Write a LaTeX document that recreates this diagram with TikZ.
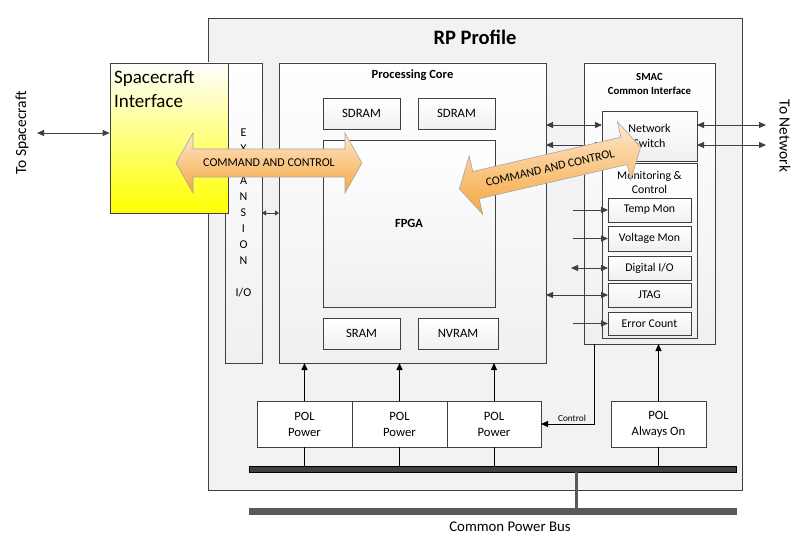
\documentclass[tikz,border=0pt]{standalone}
\usepackage{fontspec}
\setmainfont{Carlito}
\usetikzlibrary{arrows.meta,shapes.arrows}
\definecolor{edge}{HTML}{404040}
\definecolor{bgfill}{HTML}{F2F2F2}
\definecolor{busdark}{HTML}{404040}
\definecolor{busgray}{HTML}{595959}
\definecolor{orangeA}{HTML}{FFE8CC}
\definecolor{orangeB}{HTML}{F4A640}
\tikzset{
  blk/.style={draw=edge, line width=0.7pt, inner sep=0pt, outer sep=0pt, top color=white, bottom color=gray!12, align=center, font=\fontsize{12.7}{15}\selectfont},
  subblk/.style={blk, minimum width=83pt, font=\fontsize{11.8}{14}\selectfont},
  plainblk/.style={draw=edge, line width=0.7pt, inner sep=0pt, outer sep=0pt, fill=white, align=center, minimum height=46pt, font=\fontsize{12.7}{16}\selectfont},
  garrow/.style={draw=edge, line width=0.9pt, -{Triangle[length=7pt,width=6pt]}},
  gdarrow/.style={draw=edge, line width=0.9pt, {Triangle[length=7pt,width=6pt]}-{Triangle[length=7pt,width=6pt]}},
  karrow/.style={draw=black, line width=1pt, -{Triangle[length=7pt,width=6pt]}},
  kline/.style={draw=black, line width=0.8pt},
  busbar/.style={draw=black, line width=0.6pt, fill=busdark, inner sep=0pt, outer sep=0pt},
  cmdarrow/.style={draw=gray!70, line width=0.6pt, top color=orangeA, bottom color=orangeB},
  lbl/.style={inner sep=0pt, font=\fontsize{11}{13}\selectfont, align=center}
}
\begin{document}
\begin{tikzpicture}[x=1pt,y=-1pt]
\useasboundingbox (0,0) rectangle (806,548);
% outer profile
\node[draw=edge, line width=0.7pt, fill=bgfill, minimum width=534pt, minimum height=472pt, inner sep=0pt] (rp) at (475,254) {};
\node[lbl, font=\fontsize{20.5}{22}\bfseries] (rptitle) at (475,37) {RP Profile};
% expansion I/O
\node[blk, minimum width=37pt, minimum height=300pt, font=\fontsize{12}{16}\selectfont] (exp) at (243.5,213) {E\\X\\P\\A\\N\\S\\I\\O\\N\\ \\I/O};
% spacecraft interface
\node[draw=edge, line width=0.7pt, top color=white, bottom color=yellow, minimum width=118pt, minimum height=150pt, inner sep=0pt] (sc) at (169,138) {};
\node[lbl, anchor=north west, align=left, font=\fontsize{19}{23.5}\selectfont] (sctext) at (114,70.5) {Spacecraft\\Interface};
% processing core
\node[blk, minimum width=267pt, minimum height=300pt] (proc) at (412.5,213) {};
\node[lbl, font=\fontsize{12.5}{14}\bfseries] (proctitle) at (412.5,75) {Processing Core};
\node[blk, minimum width=77pt, minimum height=31pt] (sdram1) at (361.5,113.5) {SDRAM};
\node[blk, minimum width=77pt, minimum height=31pt] (sdram2) at (456.5,113.5) {SDRAM};
\node[blk, minimum width=172pt, minimum height=167pt, font=\fontsize{12.5}{14}\bfseries] (fpga) at (409,223.5) {FPGA};
\node[blk, minimum width=77pt, minimum height=31pt] (sram) at (361.5,333.5) {SRAM};
\node[blk, minimum width=80pt, minimum height=31pt] (nvram) at (458,333.5) {NVRAM};
% SMAC
\node[blk, minimum width=131pt, minimum height=281pt] (smac) at (649.5,203.5) {};
\node[lbl, font=\fontsize{10.8}{14}\bfseries] (smactitle) at (649.5,84) {SMAC\\Common Interface};
\node[blk, minimum width=95pt, minimum height=50pt, font=\fontsize{12}{15}\selectfont] (net) at (649.5,136) {Network\\Switch};
\node[blk, minimum width=95pt, minimum height=175pt] (mon) at (649.5,250.5) {};
\node[lbl, font=\fontsize{11.8}{13.5}\selectfont] (montitle) at (649.5,182.5) {Monitoring \&\\Control};
\node[subblk, minimum height=24pt] (temp) at (649.5,210) {Temp Mon};
\node[subblk, minimum height=25pt] (volt) at (649.5,238.5) {Voltage Mon};
\node[subblk, minimum height=24pt] (dio) at (649.5,268) {Digital I/O};
\node[subblk, minimum height=24pt] (jtag) at (649.5,295) {JTAG};
\node[subblk, minimum height=23pt] (err) at (649.5,323.5) {Error Count};
% side arrows into monitoring
\coordinate (tin) at (573,210);
\coordinate (vin) at (573,238.5);
\coordinate (din) at (571,268);
\coordinate (ein) at (573,323.5);
\draw[garrow] (tin) -- (temp.west);
\draw[garrow] (vin) -- (volt.west);
\draw[gdarrow] (din) -- (dio.west);
\draw[gdarrow] (proc.east |- jtag.west) -- (jtag.west);
\draw[garrow] (ein) -- (err.west);
% processing core to switch
\draw[gdarrow] (proc.east |- 0,125) -- (net.west |- 0,125);
\draw[gdarrow] (proc.east |- 0,145) -- (net.west |- 0,145);
% switch to network
\coordinate (netA) at (766,125);
\coordinate (netB) at (766,145);
\draw[gdarrow] (net.east |- netA) -- (netA);
\draw[gdarrow] (net.east |- netB) -- (netB);
\node[lbl, rotate=-90, font=\fontsize{15.5}{17}\selectfont] (tonet) at (785,136) {To Network};
% spacecraft side
\coordinate (scx) at (37,133);
\draw[gdarrow] (scx) -- (sc.west |- scx);
\node[lbl, rotate=90, font=\fontsize{15.5}{17}\selectfont] (tosc) at (22,133) {To Spacecraft};
% expansion to core
\draw[draw=edge, line width=0.9pt, {Triangle[length=4pt,width=5pt]}-{Triangle[length=4pt,width=5pt]}] (exp.east) -- (proc.west);
% POL boxes
\node[plainblk, minimum width=95pt] (pol1) at (304.5,424) {POL\\Power};
\node[plainblk, minimum width=95pt] (pol2) at (399.5,424) {POL\\Power};
\node[plainblk, minimum width=94pt] (pol3) at (494,424) {POL\\Power};
\node[plainblk, minimum width=95pt] (pola) at (658.5,424) {POL\\Always On};
\draw[karrow] (pol1.north) -- (proc.south -| pol1.north);
\draw[karrow] (pol2.north) -- (proc.south -| pol2.north);
\draw[karrow] (pol3.north) -- (proc.south -| pol3.north);
\draw[karrow] (pola.north) -- (smac.south -| pola.north);
% control
\draw[karrow] (smac.south -| 594,0) |- (pol3.east);
\node[lbl, font=\fontsize{9.3}{10}\selectfont] (ctrl) at (572,418) {Control};
% buses
\node[busbar, minimum width=487pt, minimum height=6pt] (bus) at (492.5,469) {};
\node[busbar, draw=busgray, fill=busgray, minimum width=487pt, minimum height=6pt] (cbus) at (492.5,511) {};
\draw[kline] (pol1.south) -- (bus.north -| pol1.south);
\draw[kline] (pol2.south) -- (bus.north -| pol2.south);
\draw[kline] (pol3.south) -- (bus.north -| pol3.south);
\draw[kline] (pola.south) -- (bus.north -| pola.south);
\draw[draw=busgray, line width=3pt] (bus.south -| 576,0) -- (cbus.north -| 576,0);
\node[lbl, font=\fontsize{14.8}{16}\selectfont] (cbustext) at (510,527) {Common Power Bus};
% command and control arrows
\begin{scope}[shift={(269,163)}]
\path[cmdarrow] (-93,0) -- (-76,-30) -- (-76,-14) -- (76,-14) -- (76,-30) -- (93,0) -- (76,30) -- (76,14) -- (-76,14) -- (-76,30) -- cycle;
\node[lbl, font=\fontsize{12}{13}\selectfont] (cmd1) at (0,0) {COMMAND AND CONTROL};
\end{scope}
\begin{scope}[shift={(550,168)}, rotate=13]
\path[cmdarrow] (-93,0) -- (-76,-30) -- (-76,-14) -- (76,-14) -- (76,-30) -- (93,0) -- (76,30) -- (76,14) -- (-76,14) -- (-76,30) -- cycle;
\node[lbl, rotate=13, font=\fontsize{12}{13}\selectfont] (cmd2) at (0,0) {COMMAND AND CONTROL};
\end{scope}
\end{tikzpicture}
\end{document}
